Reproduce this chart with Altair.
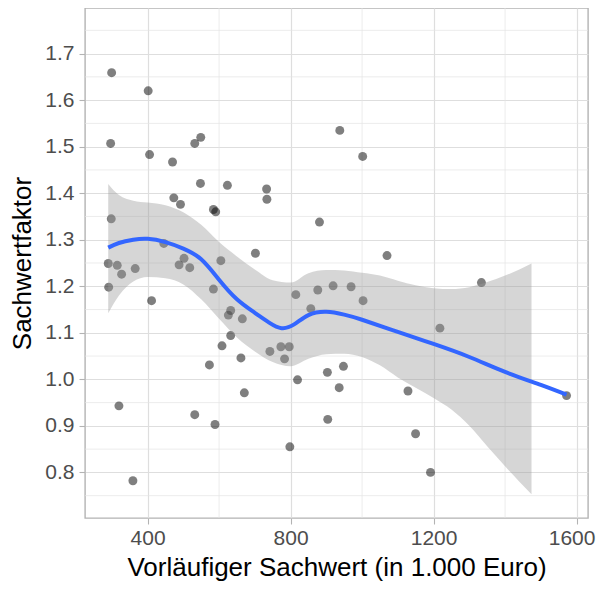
import altair as alt
import pandas as pd

# Scatter points: Vorläufiger Sachwert (1.000 Euro) vs Sachwertfaktor
pt_x = [299.5, 401.7, 296.7, 405.6, 469.8, 532, 548.8, 547.9, 623.3, 733,
        733.8, 473.4, 492.1, 584.2, 590.6, 880.9, 298.4, 445.5, 502, 605,
        701.7, 937.7, 1001.7, 1069.8, 290, 315.2, 327.4, 365.4, 291.2, 411.2,
        488.2, 518, 584.2, 632.5, 626, 665.1, 632.5, 608.2, 661.2, 573,
        742.2, 772.9, 796.3, 783.2, 819.5, 814.7, 856.6, 876.1, 919, 903,
        936, 904, 319.9, 532, 588.7, 798, 359, 670.7, 969.3, 1002.8,
        1333.9, 1217.7, 947.9, 1128.4, 1149.7, 1191.5, 1572]
pt_y = [1.659, 1.620, 1.507, 1.483, 1.467, 1.507, 1.520, 1.421, 1.417, 1.409,
        1.387, 1.390, 1.376, 1.365, 1.360, 1.338, 1.345, 1.292, 1.260, 1.255,
        1.271, 1.535, 1.479, 1.266, 1.249, 1.245, 1.226, 1.238, 1.198, 1.169,
        1.246, 1.240, 1.194, 1.148, 1.138, 1.130, 1.094, 1.072, 1.046, 1.031,
        1.060, 1.070, 1.070, 1.044, 0.999, 1.182, 1.152, 1.192, 1.201, 1.015,
        0.982, 0.914, 0.943, 0.924, 0.903, 0.855, 0.782, 0.971, 1.199, 1.169,
        1.208, 1.110, 1.028, 0.975, 0.883, 0.800, 0.965]

# Smoothed (loess) curve
line_x = [290, 320, 360, 400, 450, 500, 550, 600, 650, 700, 740, 775, 810,
          850, 900, 950, 1000, 1100, 1200, 1300, 1400, 1500, 1572]
line_y = [1.283, 1.293, 1.300, 1.302, 1.295, 1.281, 1.258, 1.214, 1.172,
          1.143, 1.122, 1.110, 1.118, 1.138, 1.145, 1.139, 1.128, 1.102,
          1.076, 1.048, 1.016, 0.988, 0.967]

# Confidence band
band_x = [290, 320, 360, 400, 450, 500, 550, 600, 650, 700, 750, 800, 850,
          900, 950, 1000, 1050, 1100, 1150, 1200, 1250, 1300, 1350, 1400,
          1440, 1474]
band_hi = [1.420, 1.396, 1.384, 1.380, 1.374, 1.359, 1.332, 1.295, 1.264,
           1.236, 1.213, 1.208, 1.228, 1.235, 1.234, 1.229, 1.223, 1.212,
           1.202, 1.196, 1.194, 1.198, 1.209, 1.223, 1.236, 1.249]
band_lo = [1.142, 1.180, 1.210, 1.220, 1.217, 1.204, 1.172, 1.130, 1.090,
           1.060, 1.037, 1.028, 1.044, 1.054, 1.055, 1.048, 1.030, 1.004,
           0.982, 0.960, 0.935, 0.900, 0.856, 0.813, 0.780, 0.753]

x_major = [400, 800, 1200, 1600]
x_minor = [600, 1000, 1400]
y_major = [0.8, 0.9, 1.0, 1.1, 1.2, 1.3, 1.4, 1.5, 1.6, 1.7]
y_minor = [0.75, 0.85, 0.95, 1.05, 1.15, 1.25, 1.35, 1.45, 1.55, 1.65, 1.75]

X_TITLE = "Vorläufiger Sachwert (in 1.000 Euro)"
Y_TITLE = "Sachwertfaktor"

pts = pd.DataFrame({"x": pt_x, "y": pt_y})
line = pd.DataFrame({"x": line_x, "y": line_y})
band = pd.DataFrame({"x": band_x, "lo": band_lo, "hi": band_hi})
xminor_df = pd.DataFrame({"x": x_minor})
yminor_df = pd.DataFrame({"y": y_minor})

FONT = "Liberation Sans"
xs = alt.Scale(domain=[225, 1632], nice=False, zero=False)
ys = alt.Scale(domain=[0.702, 1.798], nice=False, zero=False)

common = dict(
    labelFontSize=21, labelColor="#4d4d4d", labelFont=FONT,
    titleFontSize=26, titleFont=FONT, titleColor="#000000", titleFontWeight="normal",
    tickSize=6, tickColor="#b3b3b3", tickWidth=1.1, domain=False,
    gridColor="#dedede", gridWidth=1.2, labelFlush=False, labelOverlap=False,
)
xaxis = alt.Axis(
    values=x_major, format="d", labelPadding=3, titlePadding=6,
    labelOffset={"condition": {"test": "datum.value >= 1600", "value": -5}, "value": 0},
    **common,
)
yaxis = alt.Axis(values=y_major, format=".1f", labelPadding=5, titlePadding=9, **common)


def X(field):
    return alt.X(field, type="quantitative", scale=xs, axis=xaxis, title=X_TITLE)


def Y(field):
    return alt.Y(field, type="quantitative", scale=ys, axis=yaxis, title=Y_TITLE)


xminor_layer = alt.Chart(xminor_df).mark_rule(color="#e4e4e4", strokeWidth=0.7).encode(
    x=X("x"),
)
yminor_layer = alt.Chart(yminor_df).mark_rule(color="#e4e4e4", strokeWidth=0.7).encode(
    y=Y("y"),
)

points_layer = alt.Chart(pts).mark_circle(size=80, color="#000000", opacity=0.5).encode(
    x=X("x"),
    y=Y("y"),
)

band_layer = alt.Chart(band).mark_area(color="#999999", opacity=0.4, interpolate="monotone").encode(
    x=X("x"),
    y=Y("lo"),
    y2="hi:Q",
)

line_layer = alt.Chart(line).mark_line(color="#3366FF", strokeWidth=4, interpolate="natural").encode(
    x=X("x"),
    y=Y("y"),
)

chart = alt.layer(xminor_layer, yminor_layer, points_layer, band_layer, line_layer).properties(
    width=503,
    height=510,
    background="#ffffff",
    padding={"left": 77, "top": 0, "right": 8, "bottom": 64},
    autosize=alt.AutoSizeParams(type="none"),
).configure_view(
    stroke="#b3b3b3", strokeWidth=1.4
)

chart.save("out.html", embed_options={"renderer": "svg", "actions": False})
